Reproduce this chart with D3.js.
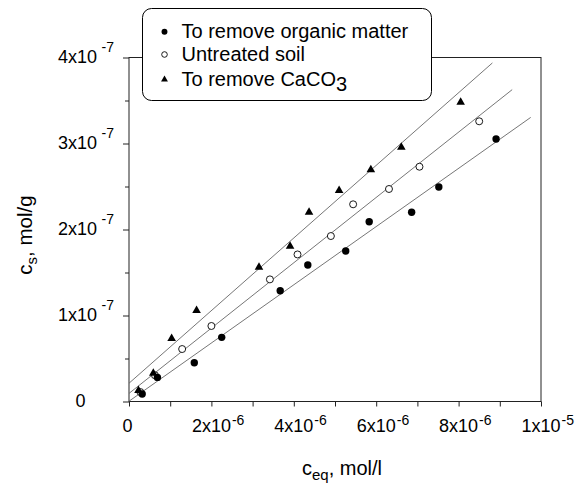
<!DOCTYPE html>
<html>
<head>
<meta charset="utf-8">
<script src="https://cdn.jsdelivr.net/npm/d3@7/dist/d3.min.js"></script>
<style>
  body { margin: 0; background: #fff; }
  svg { display: block; font-family: "Liberation Sans", Arial, sans-serif; }
</style>
</head>
<body>
<svg id="chart" width="585" height="484"></svg>
<script>
// ---- data ----
const seriesNames = ["To remove organic matter", "Untreated soil", "To remove CaCO3"];
const organicX = [0.32e-6, 0.69e-6, 1.585e-6, 2.25e-6, 3.67e-6, 4.34e-6, 5.26e-6, 5.83e-6, 6.86e-6, 7.52e-6, 8.91e-6];
const organicY = [0.087e-7, 0.28e-7, 0.45e-7, 0.746e-7, 1.288e-7, 1.587e-7, 1.75e-7, 2.09e-7, 2.2e-7, 2.494e-7, 3.052e-7];
const untreatedX = [0.275e-6, 0.63e-6, 1.29e-6, 2.0e-6, 3.42e-6, 4.09e-6, 4.90e-6, 5.44e-6, 6.31e-6, 7.05e-6, 8.50e-6];
const untreatedY = [0.11e-7, 0.305e-7, 0.61e-7, 0.878e-7, 1.42e-7, 1.71e-7, 1.924e-7, 2.293e-7, 2.471e-7, 2.73e-7, 3.258e-7];
const caco3X = [0.23e-6, 0.59e-6, 1.035e-6, 1.64e-6, 3.155e-6, 3.91e-6, 4.37e-6, 5.10e-6, 5.87e-6, 6.61e-6, 8.05e-6];
const caco3Y = [0.134e-7, 0.335e-7, 0.738e-7, 1.064e-7, 1.567e-7, 1.81e-7, 2.207e-7, 2.459e-7, 2.70e-7, 2.963e-7, 3.486e-7];
// x-range of each regression line [start, end]
const fitRangeOrganic = [0, 9.75e-6];
const fitRangeUntreated = [0, 9.30e-6];
const fitRangeCaco3 = [0, 8.82e-6];

const xTicks = [0, 2e-6, 4e-6, 6e-6, 8e-6, 1e-5];
const xTickBase = ["0", "2x10", "4x10", "6x10", "8x10", "1x10"];
const xTickExp = ["", "-6", "-6", "-6", "-6", "-5"];
const xMinor = [1e-6, 3e-6, 5e-6, 7e-6, 9e-6];
const yTicks = [0, 1e-7, 2e-7, 3e-7, 4e-7];
const yTickBase = ["0", "1x10", "2x10", "3x10", "4x10"];
const yTickExp = ["", "-7", "-7", "-7", "-7"];
const yMinor = [0.5e-7, 1.5e-7, 2.5e-7, 3.5e-7];

// ---- layout ----
const svg = d3.select("#chart");
const L = 129, R = 541, T = 57.5, B = 401.5;
const x = d3.scaleLinear().domain([0, 1e-5]).range([L, R]);
const y = d3.scaleLinear().domain([0, 4e-7]).range([B, T]);
const axisColor = "#222";
const font = 18;

// frame
svg.append("rect").attr("x", L).attr("y", T).attr("width", R - L).attr("height", B - T)
  .attr("fill", "none").attr("stroke", axisColor).attr("stroke-width", 1);

// x axis ticks
const gx = svg.append("g").attr("transform", `translate(0,${B})`)
  .call(d3.axisBottom(x).tickValues(xTicks).tickSize(5).tickFormat(""));
gx.append("g").call(d3.axisBottom(x).tickValues(xMinor).tickSize(5).tickFormat(""));
gx.selectAll(".domain").remove();
gx.selectAll("line").attr("stroke", axisColor);

// y axis ticks
const gy = svg.append("g").attr("transform", `translate(${L},0)`)
  .call(d3.axisLeft(y).tickValues(yTicks).tickSize(6).tickFormat(""));
gy.append("g").call(d3.axisLeft(y).tickValues(yMinor).tickSize(4).tickFormat(""));
gy.selectAll(".domain").remove();
gy.selectAll("line").attr("stroke", axisColor);

// x tick labels
xTicks.forEach((v, i) => {
  const t = svg.append("text").attr("x", x(v) - (xTickExp[i] ? 0 : 1.5)).attr("y", B + 30.5)
    .attr("text-anchor", "middle").attr("font-size", font).attr("fill", "#000")
    .text(xTickBase[i]);
  if (xTickExp[i]) {
    const w = t.node().getComputedTextLength();
    svg.append("text").attr("x", x(v) + w / 2 + 1).attr("y", B + 23.5)
      .attr("font-size", 14).attr("fill", "#000").text(xTickExp[i]);
  }
});

// y tick labels
yTicks.forEach((v, i) => {
  const cx = yTickExp[i] ? 77.5 : 80.5;
  const t = svg.append("text").attr("x", cx).attr("y", y(v) + 5)
    .attr("text-anchor", "middle").attr("font-size", font).attr("fill", "#000")
    .text(yTickBase[i]);
  if (yTickExp[i]) {
    const w = t.node().getComputedTextLength();
    svg.append("text").attr("x", cx + w / 2 + 4.5).attr("y", y(v) - 6)
      .attr("font-size", 14).attr("fill", "#000").text(yTickExp[i]);
  }
});

// axis titles
const xt = svg.append("text").attr("x", 342).attr("y", 475)
  .attr("text-anchor", "middle").attr("font-size", 20).attr("fill", "#000");
xt.append("tspan").text("c");
xt.append("tspan").attr("dy", 5).attr("font-size", 15).text("eq");
xt.append("tspan").attr("dy", -5).text(", mol/l");

const yt = svg.append("text").attr("transform", `translate(32,235) rotate(-90)`)
  .attr("text-anchor", "middle").attr("font-size", 20.5).attr("fill", "#000");
yt.append("tspan").text("c");
yt.append("tspan").attr("dy", 5).attr("font-size", 15).text("s");
yt.append("tspan").attr("dy", -5).text(", mol/g");

// regression lines
function fit(xs, ys) {
  const mx = d3.mean(xs), my = d3.mean(ys);
  let sxy = 0, sxx = 0;
  xs.forEach((xv, i) => { sxy += (xv - mx) * (ys[i] - my); sxx += (xv - mx) ** 2; });
  const b = sxy / sxx;
  return { b, a: my - b * mx };
}
const series = [
  { xs: organicX, ys: organicY, range: fitRangeOrganic, sym: "filled" },
  { xs: untreatedX, ys: untreatedY, range: fitRangeUntreated, sym: "open" },
  { xs: caco3X, ys: caco3Y, range: fitRangeCaco3, sym: "tri" }
];
series.forEach(s => {
  const f = fit(s.xs, s.ys);
  svg.append("line")
    .attr("x1", x(s.range[0])).attr("y1", y(f.a + f.b * s.range[0]))
    .attr("x2", x(s.range[1])).attr("y2", y(f.a + f.b * s.range[1]))
    .attr("stroke", "#666").attr("stroke-width", 0.9);
});

// markers
function drawSym(g, sym, cx, cy, scale) {
  if (sym === "filled") {
    g.append("circle").attr("cx", cx).attr("cy", cy).attr("r", 3.7 * scale).attr("fill", "#000");
  } else if (sym === "open") {
    g.append("circle").attr("cx", cx).attr("cy", cy).attr("r", 3.5 * scale)
      .attr("fill", "#fff").attr("stroke", "#000").attr("stroke-width", 0.9);
  } else {
    const h = 7.5 * scale, w = 8.6 * scale;
    g.append("path").attr("d", `M${cx},${cy - h * 0.6}L${cx + w / 2},${cy + h * 0.4}L${cx - w / 2},${cy + h * 0.4}Z`)
      .attr("fill", "#000");
  }
}
const gm = svg.append("g");
[series[1], series[2], series[0]].forEach(s => {
  s.xs.forEach((xv, i) => drawSym(gm, s.sym, x(xv), y(s.ys[i]), 1));
});

// legend
const lg = svg.append("g");
lg.append("rect").attr("x", 142.5).attr("y", 8.5).attr("width", 289).attr("height", 92)
  .attr("rx", 9).attr("fill", "#fff").attr("stroke", "#000").attr("stroke-width", 1);
const legRows = [31.7, 54.5, 79];
series.forEach((s, i) => {
  drawSym(lg, s.sym, 164.5, legRows[i], 0.8);
  const t = lg.append("text").attr("x", 181.5).attr("y", legRows[i] + 6.5)
    .attr("font-size", 20).attr("fill", "#000");
  if (i === 2) {
    t.append("tspan").text("To remove CaCO");
    t.append("tspan").attr("dy", 5).text("3");
  } else {
    t.text(seriesNames[i]);
  }
});
</script>
</body>
</html>
